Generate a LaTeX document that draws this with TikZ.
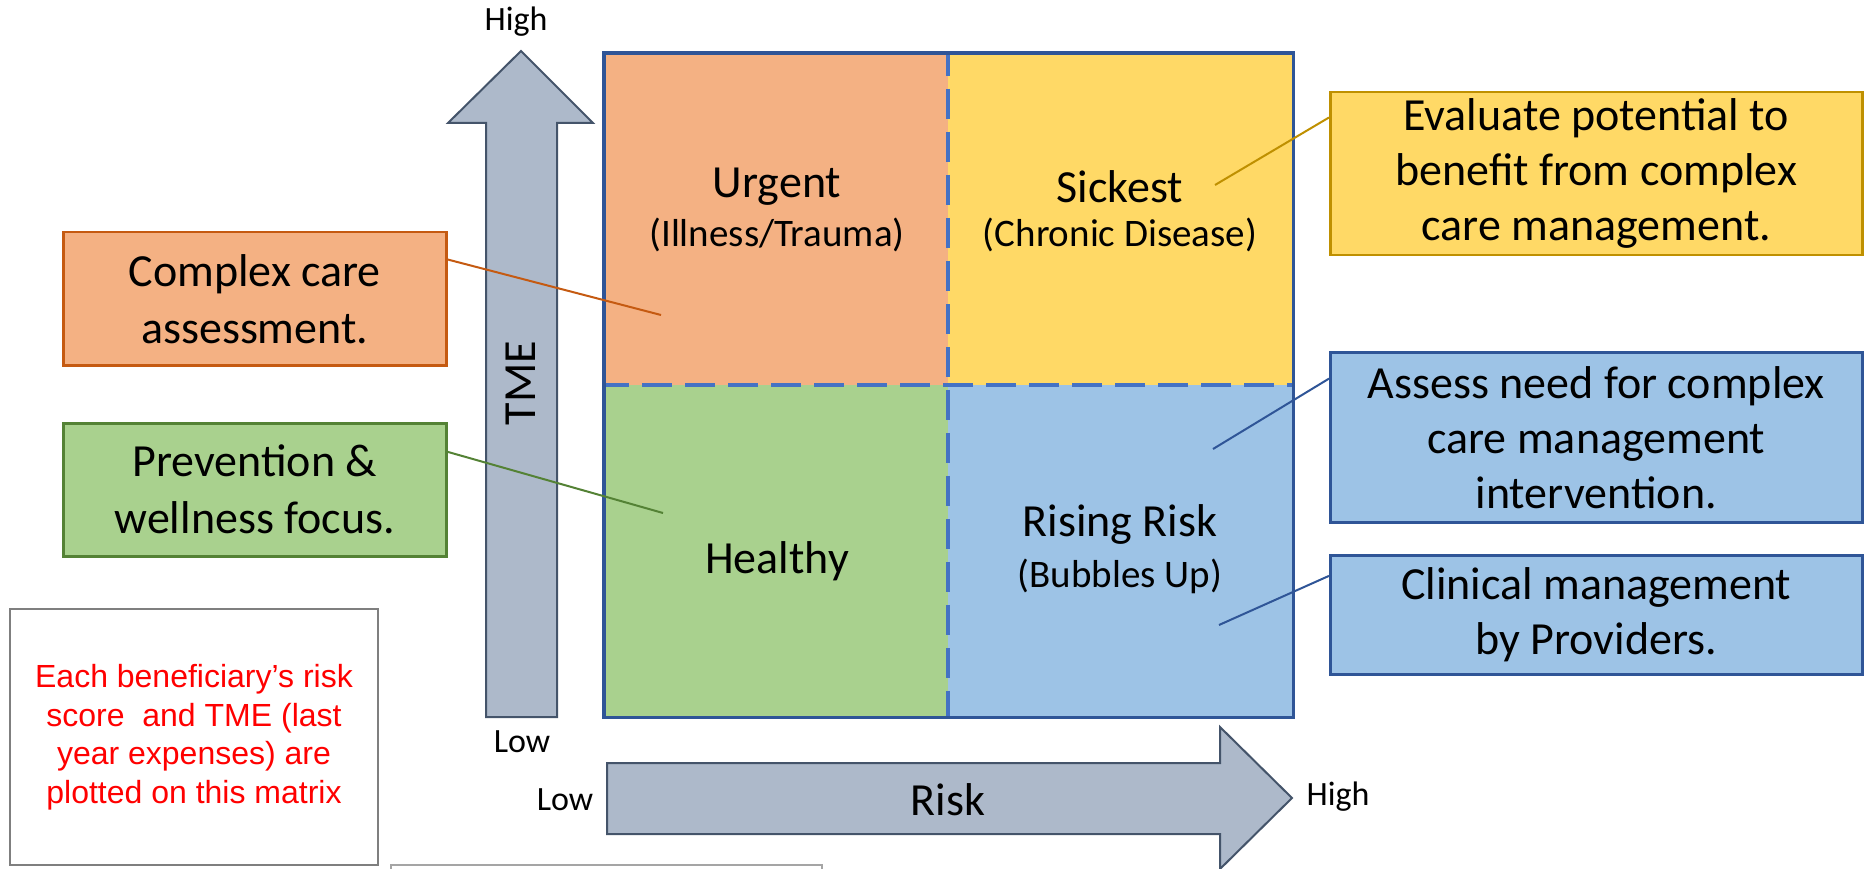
\documentclass[tikz,border=0pt]{standalone}
\usepackage{fontspec}
\setmainfont{Carlito}
\newfontfamily\arialfont{Liberation Sans}
\usetikzlibrary{calc}

\definecolor{urgfill}{HTML}{F4B183}
\definecolor{urgline}{HTML}{C55A11}
\definecolor{sickfill}{HTML}{FFD966}
\definecolor{sickline}{HTML}{BF9000}
\definecolor{healthfill}{HTML}{A9D18E}
\definecolor{healthline}{HTML}{548235}
\definecolor{riskfill}{HTML}{9DC3E6}
\definecolor{riskline}{HTML}{2F5597}
\definecolor{gridline}{HTML}{4472C4}
\definecolor{axisfill}{HTML}{ADB9CA}
\definecolor{axisline}{HTML}{44546A}
\definecolor{notered}{HTML}{FF0000}
\definecolor{noteframe}{HTML}{7F7F7F}

\tikzset{
  quadrant/.style={anchor=north west, inner sep=0pt, draw=none},
  bigtxt/.style={font=\fontsize{46}{56}\selectfont, inner sep=0pt},
  subtxt/.style={font=\fontsize{39}{46}\selectfont, inner sep=0pt},
  axistxt/.style={font=\fontsize{34}{40}\selectfont, inner sep=0pt},
  callout/.style={anchor=north west, line width=2.5pt, align=center,
    font=\fontsize{46}{55}\selectfont, inner sep=0pt},
  leftcallout/.style={callout, font=\fontsize{46}{57}\selectfont},
  link/.style={line width=2pt},
  axisarrow/.style={fill=axisfill, draw=axisline, line width=2pt, line join=miter},
  gridsplit/.style={draw=gridline, line width=4pt, dash pattern=on 30pt off 13pt},
}

\begin{document}
\begin{tikzpicture}[x=1pt,y=-1pt]
\useasboundingbox (0,0) rectangle (1864,869);
\clip (0,0) rectangle (1864,869);

% axis arrows
\draw[axisarrow] (486,717) -- (486,123) -- (448,123) -- (521,51) -- (593,123)
  -- (557,123) -- (557,717) -- cycle;
\draw[axisarrow] (607,763) -- (1220,763) -- (1220,727) -- (1292,798) -- (1220,869)
  -- (1220,834) -- (607,834) -- cycle;
\node[bigtxt, rotate=90] (tme) at (521,383) {TME};
\node[bigtxt] (risk) at (948,800) {Risk};
\node[axistxt] (tmehigh) at (516,22) {High};
\node[axistxt] (tmelow) at (522,742) {Low};
\node[axistxt] (risklow) at (565,800) {Low};
\node[axistxt] (riskhigh) at (1338,797) {High};

% the four quadrants
\node[quadrant, fill=urgfill, minimum width=344pt, minimum height=332pt] (urgent) at (604,53) {};
\node[quadrant, fill=sickfill, minimum width=345pt, minimum height=332pt] (sickest) at (948,53) {};
\node[quadrant, fill=healthfill, minimum width=344pt, minimum height=332pt] (healthy) at (604,385) {};
\node[quadrant, fill=riskfill, minimum width=345pt, minimum height=332pt] (rising) at (948,385) {};
\draw[gridsplit, dash phase=7pt] (sickest.north west) -- (rising.south west);
\draw[gridsplit, dash phase=5pt] (healthy.north west) -- (rising.north east);
\draw[draw=riskline, line width=3.5pt] (urgent.north west) rectangle (rising.south east);

\node[bigtxt] (urgentlbl) at (777,187) {Urgent};
\node[subtxt] (urgentsub) at (777,235) {(Illness/Trauma)};
\node[bigtxt] (sickestlbl) at (1120,187) {Sickest};
\node[subtxt] (sickestsub) at (1120,235) {(Chronic Disease)};
\node[bigtxt] (healthylbl) at (777,561) {Healthy};
\node[bigtxt] (risinglbl) at (1120,524) {Rising Risk};
\node[subtxt] (risingsub) at (1120,576) {(Bubbles Up)};

% callouts
\node[leftcallout, fill=urgfill, draw=urgline, minimum width=383pt, minimum height=133pt] (cca) at (62,231)
  {Complex care\\assessment.};
\node[leftcallout, fill=healthfill, draw=healthline, minimum width=383pt, minimum height=133pt] (pwf) at (62,422)
  {Prevention \&\\wellness focus.};
\node[callout, fill=sickfill, draw=sickline, minimum width=532pt, minimum height=163pt] (evp) at (1329,91)
  {Evaluate potential to\\benefit from complex\\care management.};
\node[callout, fill=riskfill, draw=riskline, minimum width=532pt, minimum height=170pt] (anc) at (1329,351)
  {Assess need for complex\\care management\\intervention.};
\node[callout, fill=riskfill, draw=riskline, minimum width=532pt, minimum height=119pt] (cmp) at (1329,554)
  {Clinical management\\by Providers.};

% connector end points
\coordinate (ccaend) at (661,315);
\coordinate (pwfend) at (663,513);
\coordinate (evpend) at (1215,185);
\coordinate (ancend) at (1213,449);
\coordinate (cmpend) at (1219,625);

\draw[link, urgline] ($(cca.north east)!0.21!(cca.south east)$) -- (ccaend);
\draw[link, healthline] ($(pwf.north east)!0.22!(pwf.south east)$) -- (pwfend);
\draw[link, sickline] ($(evp.north west)!0.16!(evp.south west)$) -- (evpend);
\draw[link, riskline] ($(anc.north west)!0.16!(anc.south west)$) -- (ancend);
\draw[link, riskline] ($(cmp.north west)!0.18!(cmp.south west)$) -- (cmpend);

% note box
\node[anchor=north west, draw=noteframe, line width=2pt, minimum width=368pt, minimum height=256pt,
  align=center, text=notered, font=\arialfont\fontsize{32}{38.5}\selectfont] (note) at (9,608)
  {Each beneficiary’s risk\\score\ \ and TME (last\\year expenses) are\\plotted on this matrix};

% frame of a box running off the bottom edge
\coordinate (stubl) at (391,880);
\coordinate (stubr) at (822,880);
\draw[draw=noteframe!70, line width=1.5pt] (stubl) -- (391,865) -- (822,865) -- (stubr);
\end{tikzpicture}
\end{document}
